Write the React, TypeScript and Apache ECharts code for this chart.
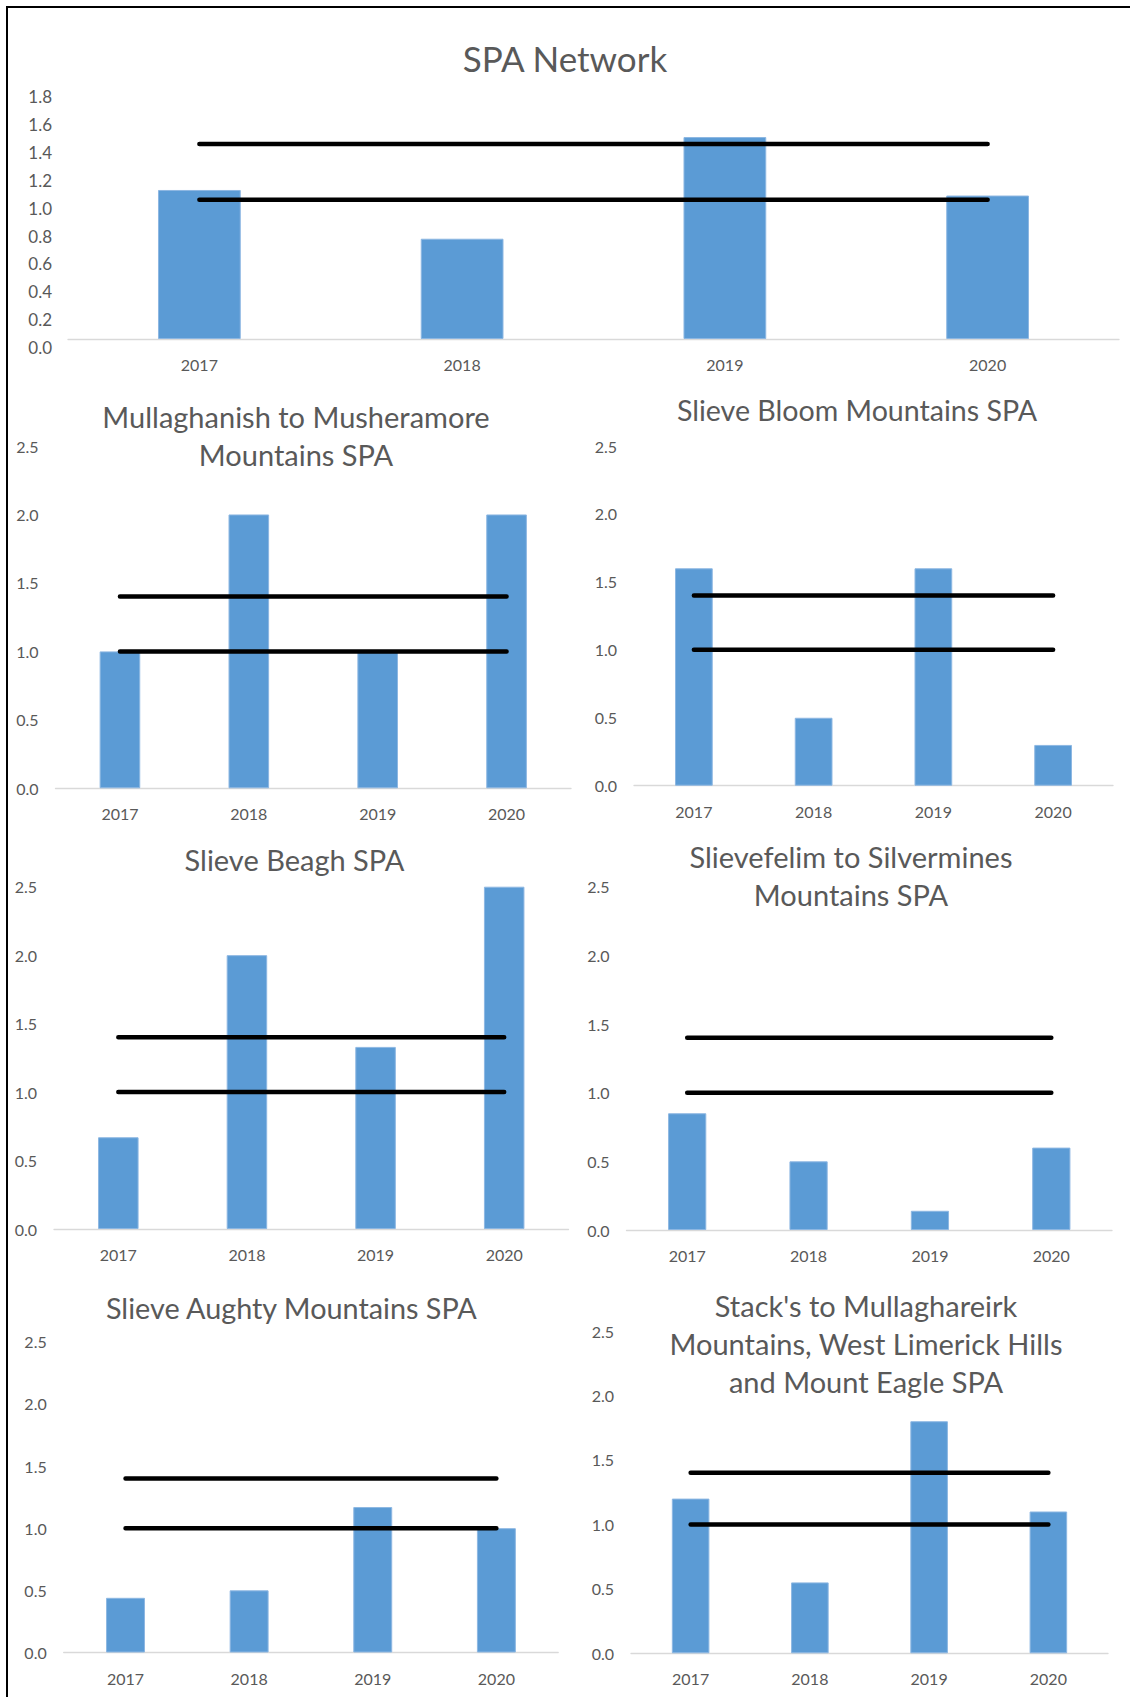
import React, { useEffect, useRef } from "react";
import * as echarts from "echarts";

// Survey years shown on every panel
const years = ["2017", "2018", "2019", "2020"];

// Index values per SPA
const spaNetwork = [1.07, 0.72, 1.45, 1.03];
const mullaghanish = [1.0, 2.0, 1.0, 2.0];
const slieveBloom = [1.6, 0.5, 1.6, 0.3];
const slieveBeagh = [0.67, 2.0, 1.33, 2.5];
const slievefelim = [0.85, 0.5, 0.14, 0.6];
const slieveAughty = [0.44, 0.5, 1.17, 1.0];
const stacks = [1.2, 0.55, 1.8, 1.1];

// Reference thresholds drawn across each panel
const upperThreshold = [1.4, 1.4, 1.4, 1.4];
const lowerThreshold = [1.0, 1.0, 1.0, 1.0];

// Value-axis ranges
const networkAxis = { max: 1.8, step: 0.2 };
const siteAxis = { max: 2.5, step: 0.5 };

const FONT = "Lato";
const TEXT_GREY = "#595959";
const BAR_BLUE = "#5B9BD5";

type Panel = {
  title: string;
  values: number[];
  axis: { max: number; step: number };
  grid: { left: number; top: number; width: number; height: number };
  titleAt: [number, number];
  titleSize: number;
  lowLabels: boolean;
};

const panels: Panel[] = [
  {
    title: "SPA Network",
    values: spaNetwork,
    axis: networkAxis,
    grid: { left: 68, top: 88.3, width: 1051, height: 250.7 },
    titleAt: [565, 58],
    titleSize: 35,
    lowLabels: true,
  },
  {
    title: "Mullaghanish to Musheramore\nMountains SPA",
    values: mullaghanish,
    axis: siteAxis,
    grid: { left: 55.5, top: 446, width: 515.5, height: 342.3 },
    titleAt: [296, 435.6],
    titleSize: 29,
    lowLabels: false,
  },
  {
    title: "Slieve Bloom Mountains SPA",
    values: slieveBloom,
    axis: siteAxis,
    grid: { left: 634, top: 446, width: 479, height: 339.7 },
    titleAt: [857, 410],
    titleSize: 28.6,
    lowLabels: false,
  },
  {
    title: "Slieve Beagh SPA",
    values: slieveBeagh,
    axis: siteAxis,
    grid: { left: 54, top: 886.7, width: 514.5, height: 342.3 },
    titleAt: [294.5, 859.7],
    titleSize: 29,
    lowLabels: false,
  },
  {
    title: "Slievefelim to Silvermines\nMountains SPA",
    values: slievefelim,
    axis: siteAxis,
    grid: { left: 626.5, top: 886.7, width: 485.5, height: 343.3 },
    titleAt: [851, 875.5],
    titleSize: 29,
    lowLabels: false,
  },
  {
    title: "Slieve Aughty Mountains SPA",
    values: slieveAughty,
    axis: siteAxis,
    grid: { left: 63.7, top: 1341.7, width: 494.5, height: 310.8 },
    titleAt: [291.4, 1308],
    titleSize: 28.8,
    lowLabels: false,
  },
  {
    title:
      "Stack's to Mullaghareirk\nMountains, West Limerick Hills\nand Mount Eagle SPA",
    values: stacks,
    axis: siteAxis,
    grid: { left: 631, top: 1331, width: 477, height: 322.3 },
    titleAt: [866, 1343.5],
    titleSize: 29,
    lowLabels: false,
  },
];

function buildOption() {
  const title: any[] = [];
  const grid: any[] = [];
  const xAxis: any[] = [];
  const yAxis: any[] = [];
  const series: any[] = [];

  panels.forEach((p, i) => {
    title.push({
      text: p.title,
      left: p.titleAt[0],
      top: p.titleAt[1],
      textAlign: "center",
      textVerticalAlign: "middle",
      padding: 0,
      textStyle: {
        fontFamily: FONT,
        fontSize: p.titleSize,
        fontWeight: "normal",
        color: TEXT_GREY,
        lineHeight: 38.3,
      },
    });
    grid.push({ ...p.grid, containLabel: false });
    xAxis.push({
      type: "category",
      gridIndex: i,
      data: years,
      boundaryGap: true,
      axisTick: { show: false },
      axisLine: { show: true, lineStyle: { color: "#D9D9D9", width: 1.3 } },
      axisLabel: {
        margin: 17.5,
        fontFamily: FONT,
        fontSize: 16,
        color: TEXT_GREY,
      },
    });
    yAxis.push({
      type: "value",
      gridIndex: i,
      min: 0,
      max: p.axis.max,
      interval: p.axis.step,
      axisLine: { show: false },
      axisTick: { show: false },
      splitLine: { show: false },
      axisLabel: {
        margin: p.lowLabels ? 16 : 17,
        fontFamily: FONT,
        fontSize: p.lowLabels ? 17 : 16,
        lineHeight: p.lowLabels ? 17 : 16,
        color: TEXT_GREY,
        formatter: (v: number) => v.toFixed(1),
        verticalAlign: p.lowLabels ? "top" : "middle",
      },
    });
    series.push({
      type: "bar",
      xAxisIndex: i,
      yAxisIndex: i,
      data: p.values,
      barWidth: "31.5%",
      itemStyle: { color: BAR_BLUE, borderColor: "#8DB7E2", borderWidth: 1 },
      z: 2,
    });
    [upperThreshold, lowerThreshold].forEach((band) => {
      series.push({
        type: "line",
        xAxisIndex: i,
        yAxisIndex: i,
        data: band,
        showSymbol: false,
        symbol: "none",
        lineStyle: { color: "#000000", width: 4.5, cap: "round" },
        z: 3,
      });
    });
  });

  return {
    animation: false,
    backgroundColor: "#ffffff",
    title,
    grid,
    xAxis,
    yAxis,
    series,
    graphic: [
      {
        type: "line",
        shape: { x1: 6, y1: 7, x2: 1130, y2: 7 },
        style: { stroke: "#000000", lineWidth: 2 },
      },
      {
        type: "line",
        shape: { x1: 7, y1: 6, x2: 7, y2: 1697 },
        style: { stroke: "#000000", lineWidth: 2 },
      },
    ],
  };
}

export default function App() {
  const ref = useRef<HTMLDivElement>(null);

  useEffect(() => {
    if (!ref.current) return;
    const chart = echarts.init(ref.current, undefined, { renderer: "svg" });
    chart.setOption(buildOption() as any);
    return () => chart.dispose();
  }, []);

  return (
    <div
      ref={ref}
      style={{
        position: "absolute",
        left: 0,
        top: 0,
        width: 1130,
        height: 1697,
        background: "#ffffff",
      }}
    />
  );
}
